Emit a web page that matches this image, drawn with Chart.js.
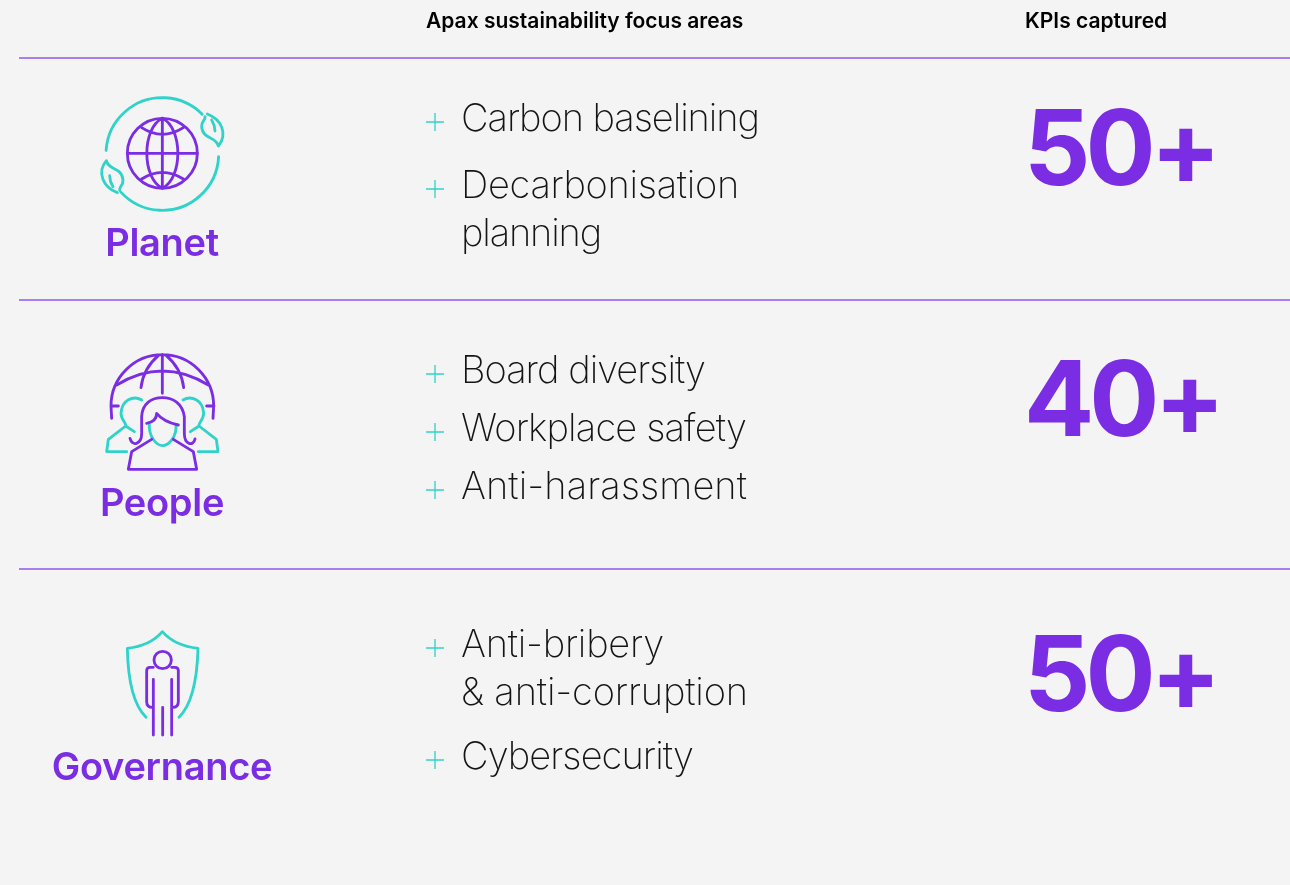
<!DOCTYPE html>
<html><head><meta charset="utf-8">
<script src="https://cdn.jsdelivr.net/npm/chart.js@4/dist/chart.umd.js"></script>
<style>html,body{margin:0;padding:0;background:#f4f4f4;overflow:hidden}#w{position:relative;width:1290px;height:885px}</style>
</head><body><div id="w"><canvas id="c" width="1290" height="885"></canvas></div>
<script>
const categories=['Planet','People','Governance'];
const columnHeaders=['Apax sustainability focus areas','KPIs captured'];
const kpiValues=[50,40,50];
const kpiSuffix='+';
const focusAreas=[
 [['Carbon baselining'],['Decarbonisation','planning']],
 [['Board diversity'],['Workplace safety'],['Anti-harassment']],
 [['Anti-bribery','& anti-corruption'],['Cybersecurity']]
];
const PURPLE='#7a2de2',TEAL='#2fd3c9',INK='#141414';
const BODY={font:'250 38px Inter, sans-serif'},HEAD={font:'600 21px Inter, sans-serif',ls:'0px'},CAT={font:'600 38px Inter, sans-serif',ls:'-0.3px'},KPI={font:'650 104px Inter, sans-serif',ls:'-5px'};
const ruleY=[58,300,569],catY=[256,516,780],kpiY=[185,436,711];
const lineY=[[[131],[198,246]],[[383],[441],[499]],[[657,705],[769]]];
const lineEnd=[[[759],[739,601]],[[705],[746],[747]],[[664,748],[693]]];

function icons(ctx,sx,sy){
 const at=(x0,y0,fn)=>{ctx.save();ctx.translate(sx(x0),sy(y0));ctx.scale(1/3,1/3);ctx.lineWidth=8.5;ctx.lineCap='round';ctx.lineJoin='round';fn();ctx.restore();};
 const P=(c,d)=>{ctx.strokeStyle=c;ctx.stroke(new Path2D(d));};
 at(90,85,()=>{
  ctx.strokeStyle=TEAL;
  ctx.beginPath();ctx.arc(217,207,169,Math.PI*1.02,Math.PI*1.75);ctx.stroke();
  ctx.beginPath();ctx.arc(217,207,169,Math.PI*0.015,Math.PI*0.765);ctx.stroke();
  const leaf='M352,87 C395,103 414,148 385,183 C378,152 338,165 335,125 C334,108 347,105 345,95 M365,105 C373,118 375,128 375,138';
  P(TEAL,leaf);
  ctx.save();ctx.translate(434,410);ctx.rotate(Math.PI);P(TEAL,leaf);ctx.restore();
  P(PURPLE,'M217,100 L217,310 M112,205 L322,205 M217,100 C155,130 155,280 217,310 C279,280 279,130 217,100 M155,128 Q217,168 280,128 M155,282 Q217,242 280,282');
  ctx.strokeStyle=PURPLE;ctx.beginPath();ctx.arc(217,205,105,0,Math.PI*2);ctx.stroke();
 });
 at(95,345,()=>{
  P(PURPLE,'M50,220 L48,183 A154,154 0 0 1 356,183 L354,220 M48,183 L70,183 M335,183 L357,183 M202,28 L202,145 M65,120 Q202,36 340,120 M138,128 Q145,70 190,32 M266,128 Q259,70 214,32');
  P(TEAL,'M140,165 C115,150 80,165 78,205 C78,225 95,235 92,243 L40,283 L35,320 L95,320 M92,243 L118,260 M264,165 C289,150 324,165 326,205 C326,225 309,235 312,243 L364,283 L369,320 L310,320 M312,243 L286,260');
  P(TEAL,'M163,235 C160,275 185,302 203,302 C221,302 246,275 243,238');
  P(PURPLE,'M105,280 C110,305 140,300 140,265 L140,215 C142,175 170,158 202,158 C234,158 262,175 268,215 L268,265 C268,300 295,305 300,282 M170,283 L110,320 L100,373 L305,373 L295,320 L235,283 M155,235 Q185,230 185,205 Q205,230 250,240');
 });
 at(110,620,()=>{
  P(TEAL,'M108,292 Q55,240 52,85 Q120,78 157,35 Q195,78 264,85 Q260,240 207,292');
  ctx.strokeStyle=PURPLE;ctx.beginPath();ctx.arc(158,120,26,0,Math.PI*2);ctx.stroke();
  P(PURPLE,'M130,142 L120,142 Q110,142 110,152 L110,245 Q110,262 128,262 M130,178 L130,345 M158,262 L158,345 M185,178 L185,345 M185,142 L195,142 Q205,142 205,152 L205,245 Q205,262 187,262');
 });
}
const textPlugin={id:'infographic',afterDatasetsDraw(chart){
 const {ctx,scales:{x,y}}=chart,sx=v=>x.getPixelForValue(v),sy=v=>y.getPixelForValue(v);
 ctx.save();ctx.textBaseline='alphabetic';
 const T=(s,px,py,st,col,al)=>{ctx.font=st.font;ctx.letterSpacing=st.ls;ctx.fillStyle=col;ctx.textAlign=al||'left';ctx.fillText(s,sx(px),sy(py));};
 const fit=(s,px,py,end)=>{ctx.font=BODY.font;ctx.letterSpacing='0px';const w=ctx.measureText(s).width;T(s,px,py,{font:BODY.font,ls:((end-px-w)/s.length).toFixed(3)+'px'},INK);};
 T(columnHeaders[0],426,28,HEAD,'#000');T(columnHeaders[1],1025,28,HEAD,'#000');
 categories.forEach((c,i)=>{
  T(c,162,catY[i],CAT,PURPLE,'center');
  T(kpiValues[i]+kpiSuffix,1024,kpiY[i],KPI,PURPLE);
  focusAreas[i].forEach((item,j)=>item.forEach((ln,k)=>fit(ln,461,lineY[i][j][k],lineEnd[i][j][k])));
 });
 ctx.restore();
 icons(ctx,sx,sy);
}};
const bullets=lineY.flatMap(r=>r.map(l=>({x:435,y:l[0]-9})));
new Chart(document.getElementById('c'),{type:'scatter',
 data:{datasets:[
  ...ruleY.map(v=>({type:'line',data:[{x:19,y:v},{x:1290,y:v}],borderColor:'#9058e8',borderWidth:1.5,pointRadius:0})),
  {data:bullets,pointStyle:'cross',pointRadius:9,pointBorderColor:TEAL,pointBorderWidth:1.3,pointBackgroundColor:TEAL}
 ]},
 options:{responsive:false,animation:false,layout:{padding:0,autoPadding:false},
  plugins:{legend:{display:false},tooltip:{enabled:false},title:{display:false}},
  scales:{x:{type:'linear',min:0,max:1290,display:false},y:{type:'linear',min:0,max:885,reverse:true,display:false}}},
 plugins:[{id:'bg',beforeDraw(c){c.ctx.save();c.ctx.fillStyle='#f4f4f4';c.ctx.fillRect(0,0,c.width,c.height);c.ctx.restore();}},textPlugin]
});
</script></body></html>
